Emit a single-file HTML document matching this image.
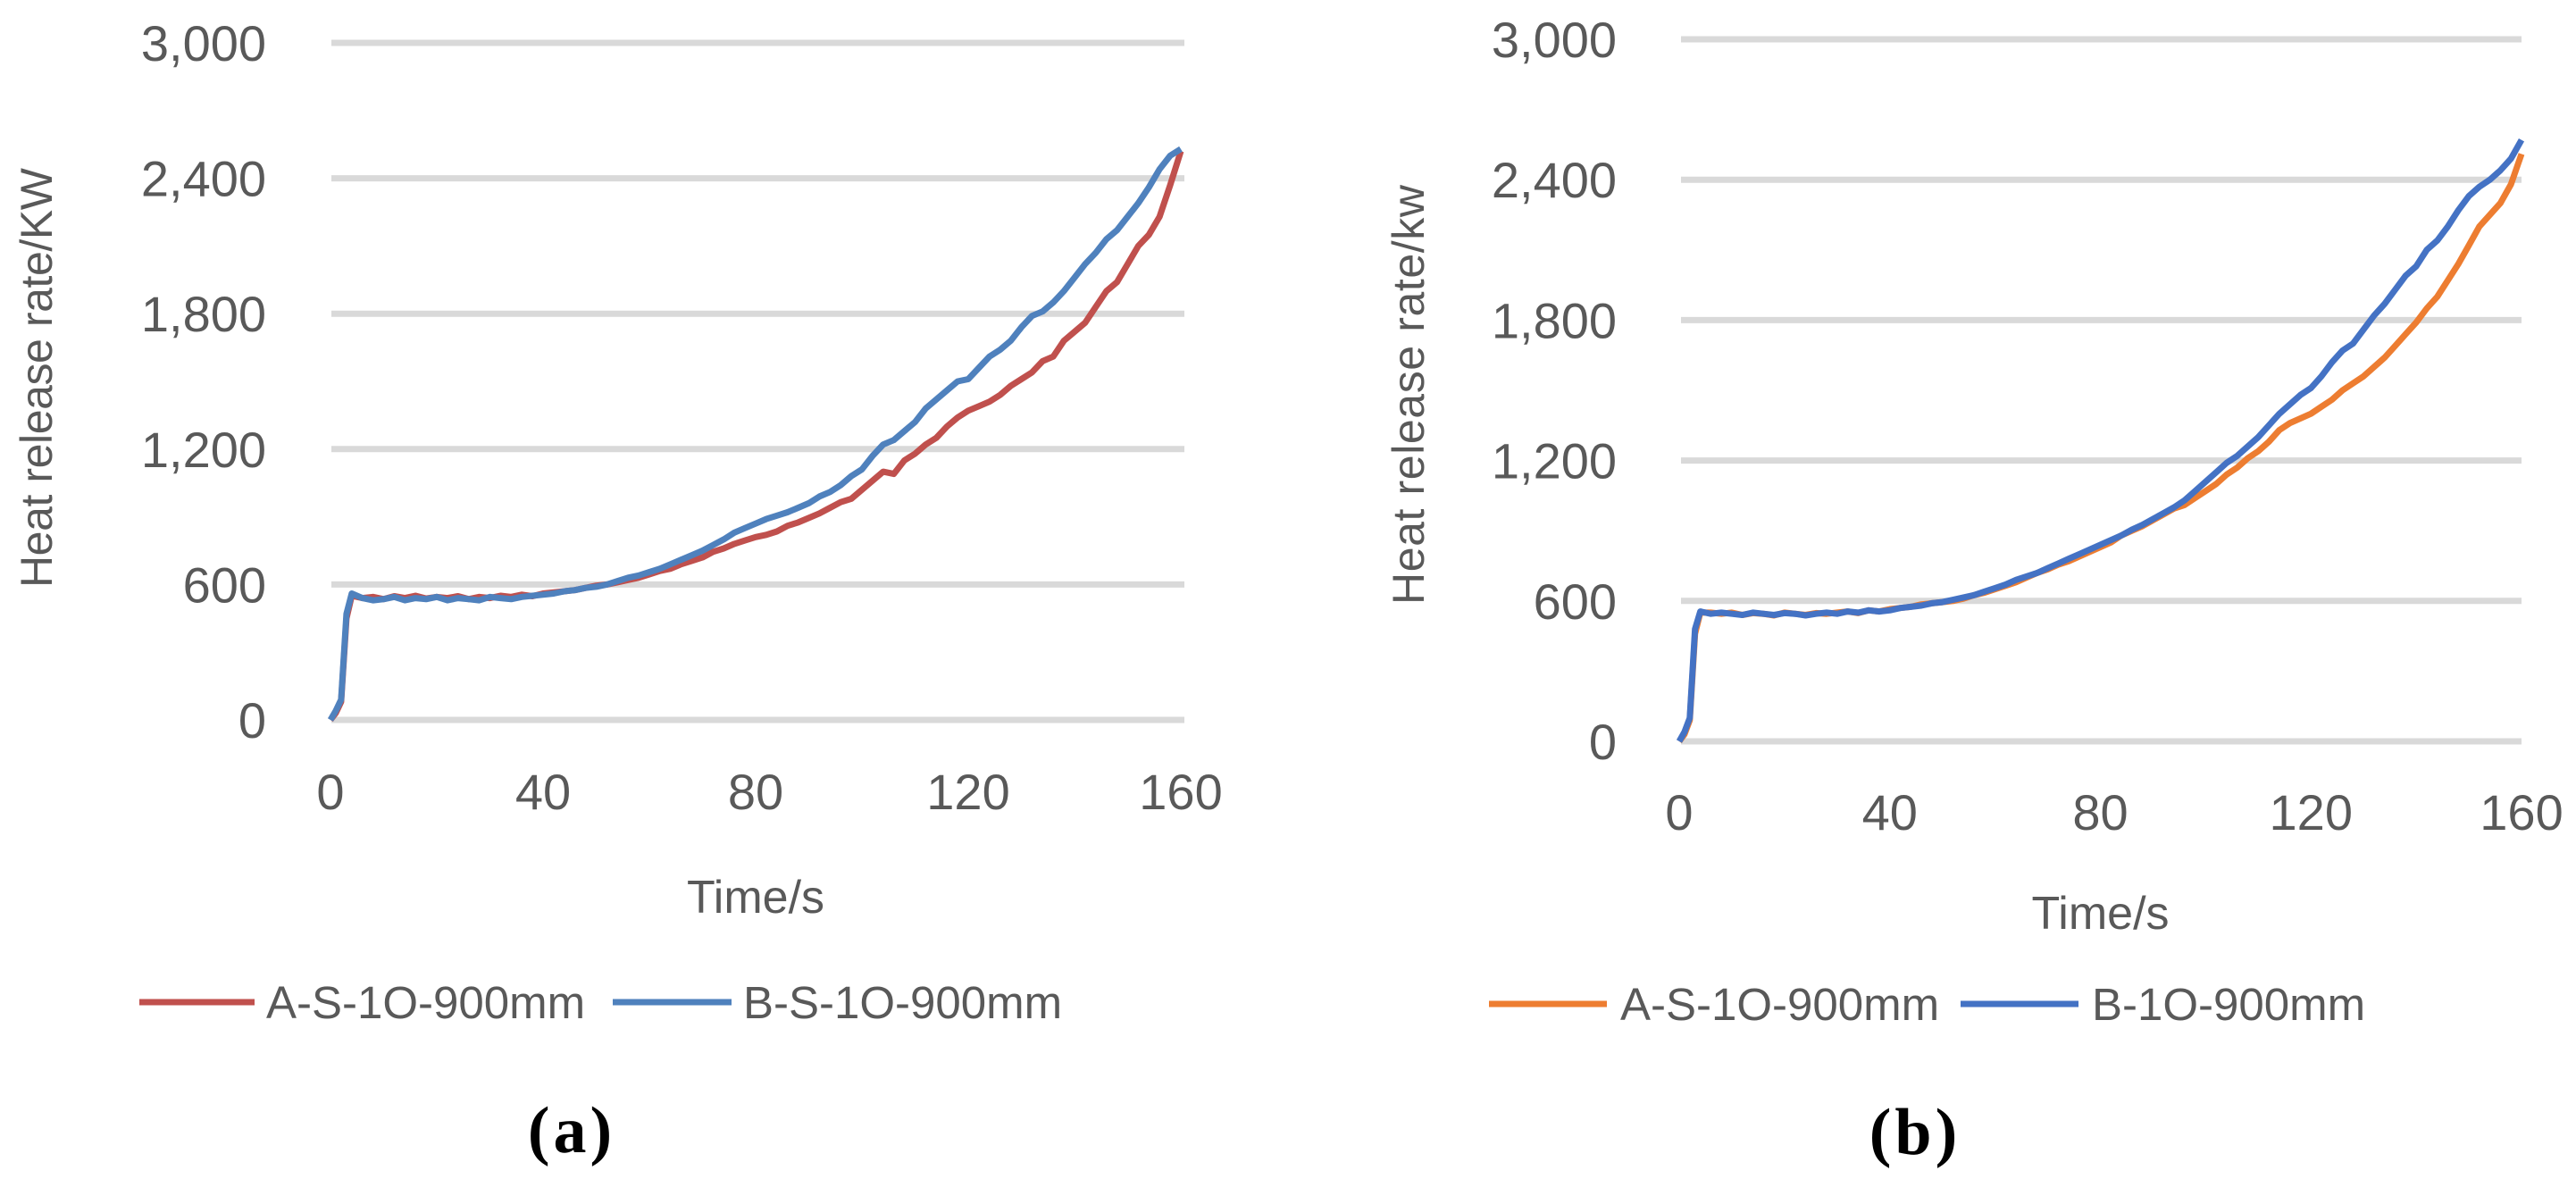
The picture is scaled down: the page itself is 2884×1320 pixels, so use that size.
<!DOCTYPE html>
<html><head><meta charset="utf-8"><style>
html,body{margin:0;padding:0;background:#fff;}
svg{display:block;font-family:"Liberation Sans",sans-serif;}
</style></head><body>
<svg id="s" width="2884" height="1320" viewBox="0 0 2884 1320"></svg>
<script>
const timesA=[0,1,2,3,4,6,8,10,12,14,16,18,20,22,24,26,28,30,32,34,36,38,40,42,44,46,48,50,52,54,56,58,60,62,64,66,68,70,72,74,76,78,80,82,84,86,88,90,92,94,96,98,100,102,104,106,108,110,112,114,116,118,120,122,124,126,128,130,132,134,136,138,140,142,144,146,148,150,152,154,156,158,160];
const xTicks=[0,40,80,120,160];
const yTicks=[0,600,1200,1800,2400,3000];
const yTickLabels=["0","600","1,200","1,800","2,400","3,000"];
const leftRed=[0,30,80,450,550,
540,545,535,548,540,550,538,545,540,548,
535,545,540,550,545,555,548,560,565,570,
575,585,595,600,610,620,630,645,660,670,
690,705,720,745,760,780,795,810,820,835,
860,875,895,915,940,965,980,1020,1060,1100,
1090,1150,1180,1220,1250,1300,1340,1370,1390,1410,
1440,1480,1510,1540,1590,1610,1680,1720,1760,1830,
1900,1940,2020,2100,2150,2230,2370,2520];
const leftBlue=[0,40,90,470,560,
540,530,535,545,530,540,535,545,530,540,
535,530,545,540,535,545,550,555,560,570,
575,585,590,600,615,630,640,655,670,690,
710,730,750,775,800,830,850,870,890,905,
920,940,960,990,1010,1040,1080,1110,1170,1220,
1240,1280,1320,1380,1420,1460,1500,1510,1560,1610,
1640,1680,1740,1790,1810,1850,1900,1960,2020,2070,
2130,2170,2230,2290,2360,2440,2500,2530];
const rightOrange=[0,30,90,460,550,
550,545,550,540,548,545,538,550,545,540,
548,545,550,555,548,560,555,565,570,575,
585,590,595,600,610,625,635,650,665,680,
700,720,735,755,770,790,810,830,850,880,
900,920,945,970,995,1010,1040,1070,1100,1140,
1170,1210,1240,1280,1330,1360,1380,1400,1430,1460,
1500,1530,1560,1600,1640,1690,1740,1790,1850,1900,
1970,2040,2120,2200,2250,2300,2380,2510];
const rightBlue=[0,40,100,480,555,
545,550,545,540,550,545,540,548,545,538,
545,550,545,555,550,560,555,560,570,575,
580,590,595,605,615,625,640,655,670,690,
705,720,740,760,780,800,820,840,860,880,
905,925,950,975,1000,1030,1070,1110,1150,1190,
1220,1260,1300,1350,1400,1440,1480,1510,1560,1620,
1670,1700,1760,1820,1870,1930,1990,2030,2100,2140,
2200,2270,2330,2370,2400,2440,2490,2570];

const NS="http://www.w3.org/2000/svg";
const svg=document.getElementById('s');
function mk(tag,attrs,parent,text){const e=document.createElementNS(NS,tag);for(const k in attrs)e.setAttribute(k,attrs[k]);if(text!==undefined)e.textContent=text;(parent||svg).appendChild(e);return e;}

function chart(cfg){
  const g=mk('g',{});
  
  
  const xs=v=>cfg.x0+(v-0)/160*(cfg.x160-cfg.x0);
  const ys=v=>cfg.y0+(v/3000)*(cfg.y3000-cfg.y0);
  yTicks.forEach((t,i)=>{
    const l=mk('line',{x1:cfg.gl,x2:cfg.gr,y1:ys(t),y2:ys(t),stroke:'#d9d9d9','stroke-width':7},g);
    
    
    const tx=mk('text',{x:cfg.ylx,y:ys(t)+20,'text-anchor':'end','font-size':56,fill:'#595959'},g,yTickLabels[i]);
    
    
  });
  xTicks.forEach(t=>{
    const tx=mk('text',{x:xs(t),y:cfg.xly,'text-anchor':'middle','font-size':56,fill:'#595959'},g,String(t));
    
    
  });
  const yt=mk('text',{x:0,y:0,transform:`translate(${cfg.ytx},${cfg.yty}) rotate(-90)`,'text-anchor':'middle','font-size':50,fill:'#595959',textLength:cfg.ytl,lengthAdjust:'spacing'},g,cfg.ytitle);
  
  
  const xt=mk('text',{x:(cfg.x0+cfg.x160)/2,y:cfg.xty,'text-anchor':'middle','font-size':52,fill:'#595959'},g,'Time/s');
  
  
  cfg.series.forEach(s=>{
    const d=timesA.map((t,i)=>(i?'L':'M')+xs(t).toFixed(1)+','+ys(s.v[i]).toFixed(1)).join('');
    const p=mk('path',{d:d,fill:'none',stroke:s.c,'stroke-width':7,'stroke-linejoin':'round'},g);
    
    
    const ll=mk('line',{x1:s.lx1,x2:s.lx2,y1:cfg.ly,y2:cfg.ly,stroke:s.c,'stroke-width':7},g);
    
    
    const lt=mk('text',{x:s.tx,y:cfg.ly+18,'font-size':51,fill:'#595959'},g,s.label);
    
    
  });
  const cap=mk('text',{x:cfg.capx,y:cfg.capy,'text-anchor':'middle','font-size':74,'font-weight':'bold','letter-spacing':'4','font-family':'Liberation Serif, serif',fill:'#000'},g,cfg.cap);
  
  
}
chart({name:'chart-a',x0:370,x160:1322,gl:371,gr:1326,y0:806,y3000:48,ylx:298,xly:906,ytx:58,yty:423,ytl:470,ytitle:'Heat release rate/KW',xty:1022,ly:1122,capx:640,capy:1290,cap:'(a)',
  series:[{n:'a-s-1o-900mm',c:'#c0504d',v:leftRed,lx1:156,lx2:285,tx:298,label:'A-S-1O-900mm'},
          {n:'b-s-1o-900mm',c:'#4f81bd',v:leftBlue,lx1:686,lx2:819,tx:832,label:'B-S-1O-900mm'}]});
chart({name:'chart-b',x0:1880,x160:2823,gl:1882,gr:2823,y0:830,y3000:44,ylx:1810,xly:929,ytx:1594,yty:442,ytl:470,ytitle:'Heat release rate/kw',xty:1040,ly:1124,capx:2144,capy:1292,cap:'(b)',
  series:[{n:'a-s-1o-900mm',c:'#ed7d31',v:rightOrange,lx1:1667,lx2:1799,tx:1814,label:'A-S-1O-900mm'},
          {n:'b-1o-900mm',c:'#4472c4',v:rightBlue,lx1:2195,lx2:2327,tx:2342,label:'B-1O-900mm'}]});
</script>
</body></html>
